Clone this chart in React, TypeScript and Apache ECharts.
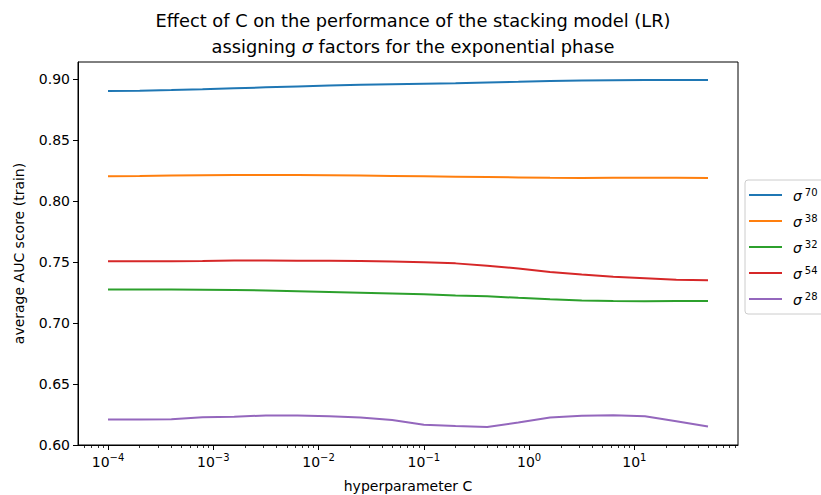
import React, { useEffect, useRef } from "react";
import * as echarts from "echarts";

// hyperparameter C values (log-spaced)
const cValues = [
  0.0001, 0.0002, 0.0004, 0.00079, 0.00158, 0.00316, 0.0063, 0.0126, 0.025, 0.05,
  0.1, 0.2, 0.4, 0.79, 1.58, 3.16, 6.3, 12.6, 25, 50,
];

const seriesExponents = ["70", "38", "32", "54", "28"];
const seriesColors = ["#1f77b4", "#ff7f0e", "#2ca02c", "#d62728", "#9467bd"];

const sigma70 = [
  0.8905, 0.8907, 0.8912, 0.8918, 0.8926, 0.8934, 0.8942, 0.8950, 0.8955, 0.8960,
  0.8964, 0.8968, 0.8974, 0.8980, 0.8987, 0.8991, 0.8993, 0.8995, 0.8995, 0.8994,
];
const sigma38 = [
  0.8205, 0.8207, 0.8210, 0.8212, 0.8214, 0.8215, 0.8215, 0.8213, 0.8210, 0.8207,
  0.8204, 0.8201, 0.8198, 0.8195, 0.8192, 0.8191, 0.8193, 0.8193, 0.8192, 0.8191,
];
const sigma32 = [
  0.7275, 0.7276, 0.7275, 0.7274, 0.7272, 0.7268, 0.7262, 0.7256, 0.7250, 0.7243,
  0.7236, 0.7227, 0.7220, 0.7207, 0.7195, 0.7185, 0.7182, 0.7180, 0.7182, 0.7182,
];
const sigma54 = [
  0.7507, 0.7507, 0.7508, 0.7510, 0.7513, 0.7513, 0.7512, 0.7512, 0.7510, 0.7505,
  0.7500, 0.7490, 0.7470, 0.7448, 0.7420, 0.7398, 0.7380, 0.7368, 0.7355, 0.7352,
];
const sigma28 = [
  0.6210, 0.6210, 0.6212, 0.6228, 0.6232, 0.6243, 0.6243, 0.6236, 0.6225, 0.6205,
  0.6167, 0.6155, 0.6147, 0.6185, 0.6225, 0.6240, 0.6245, 0.6235, 0.6195, 0.6152,
];
const seriesValues = [sigma70, sigma38, sigma32, sigma54, sigma28];

const xMajorExponents = [-4, -3, -2, -1, 0, 1];
const yTicks = [0.6, 0.65, 0.7, 0.75, 0.8, 0.85, 0.9];

const FONT = "DejaVu Sans";

export default function App() {
  const ref = useRef<HTMLDivElement>(null);

  useEffect(() => {
    if (!ref.current) return;
    const chart = echarts.init(ref.current, undefined, { renderer: "svg" });

    const xMin = -4.285;
    const xMax = 1.984;
    const minor: number[] = [];
    for (let n = -5; n <= 2; n++) {
      for (let k = 2; k <= 9; k++) {
        const v = Math.log10(k) + n;
        if (v > xMin && v < xMax) minor.push(v);
      }
    }

    const supRich = {
      b: { fontFamily: FONT, fontSize: 14, color: "#000", verticalAlign: "bottom", lineHeight: 18 },
      sup: {
        fontFamily: FONT,
        fontSize: 10,
        color: "#000",
        verticalAlign: "bottom",
        lineHeight: 18,
        padding: [0, 0, 7, 0],
      },
    };

    const option: any = {
      animation: false,
      backgroundColor: "#ffffff",
      title: {
        text: "Effect of C on the performance of the stacking model (LR)\nassigning {i|σ} factors for the exponential phase",
        left: 408,
        textAlign: "center",
        top: 2,
        textStyle: {
          fontFamily: FONT,
          fontSize: 17.8,
          fontWeight: "normal",
          color: "#000",
          lineHeight: 26,
          rich: {
            i: { fontFamily: FONT, fontSize: 17.8, fontStyle: "italic", color: "#000", lineHeight: 26 },
          },
        },
      },
      grid: {
        left: 78,
        right: 83,
        top: 62,
        bottom: 50,
        outerBoundsMode: "none",
        containLabel: false,
        show: true,
        borderColor: "#000",
        borderWidth: 1,
        backgroundColor: "transparent",
      },
      legend: {
        orient: "vertical",
        left: 745,
        top: 180,
        icon: "rect",
        itemWidth: 33,
        itemHeight: 2,
        itemGap: 10,
        padding: [7, 10, 7, 4],
        borderColor: "#cccccc",
        borderWidth: 1,
        borderRadius: 3,
        backgroundColor: "#ffffff",
        data: seriesExponents.map((e) => `σ${e}`),
        formatter: (name: string) => `{s|σ}{sup|${name.slice(1)}}`,
        textStyle: {
          rich: {
            s: {
              fontFamily: FONT,
              fontSize: 14,
              fontStyle: "italic",
              color: "#000",
              verticalAlign: "bottom",
              lineHeight: 16,
              padding: [0, 3, 0, 6],
            },
            sup: {
              fontFamily: FONT,
              fontSize: 10,
              color: "#000",
              verticalAlign: "bottom",
              lineHeight: 16,
              padding: [0, 0, 6, 0],
            },
          },
        },
      },
      xAxis: [
        {
          type: "value",
          min: xMin,
          max: xMax,
          name: "hyperparameter C",
          nameLocation: "middle",
          nameGap: 34,
          nameTextStyle: { fontFamily: FONT, fontSize: 14, color: "#000" },
          axisLine: { show: true, onZero: false, lineStyle: { color: "#000", width: 1 } },
          axisTick: {
            show: true,
            length: 5,
            customValues: xMajorExponents,
            lineStyle: { color: "#000", width: 1 },
          },
          axisLabel: {
            show: true,
            margin: 6,
            customValues: xMajorExponents,
            formatter: (v: number) => {
              const e = Math.round(v);
              const s = e < 0 ? `−${-e}` : `${e}`;
              return `{b|10}{sup|${s}}`;
            },
            rich: supRich,
          },
          splitLine: { show: false },
        },
        {
          type: "value",
          min: xMin,
          max: xMax,
          position: "bottom",
          axisLine: { show: false, onZero: false },
          axisTick: {
            show: true,
            length: 3,
            customValues: minor,
            lineStyle: { color: "#000", width: 0.8 },
          },
          axisLabel: { show: false },
          splitLine: { show: false },
        },
      ],
      yAxis: {
        type: "value",
        min: 0.6,
        max: 0.9142,
        name: "average AUC score (train)",
        nameLocation: "middle",
        nameGap: 52,
        nameTextStyle: { fontFamily: FONT, fontSize: 14, color: "#000" },
        axisLine: { show: true, onZero: false, lineStyle: { color: "#000", width: 1 } },
        axisTick: {
          show: true,
          length: 5,
          customValues: yTicks,
          lineStyle: { color: "#000", width: 1 },
        },
        axisLabel: {
          show: true,
          margin: 8,
          customValues: yTicks,
          fontFamily: FONT,
          fontSize: 14,
          color: "#000",
          formatter: (v: number) => v.toFixed(2),
        },
        splitLine: { show: false },
      },
      series: seriesExponents.map((e, i) => ({
        name: `σ${e}`,
        type: "line",
        xAxisIndex: 0,
        symbol: "none",
        smooth: false,
        color: seriesColors[i],
        lineStyle: { color: seriesColors[i], width: 2 },
        data: cValues.map((c, j) => [Math.log10(c), seriesValues[i][j]]),
      })),
    };

    chart.setOption(option);
    return () => chart.dispose();
  }, []);

  return (
    <div
      ref={ref}
      style={{ position: "fixed", left: 0, top: 0, width: 821, height: 495, background: "#fff" }}
    />
  );
}
